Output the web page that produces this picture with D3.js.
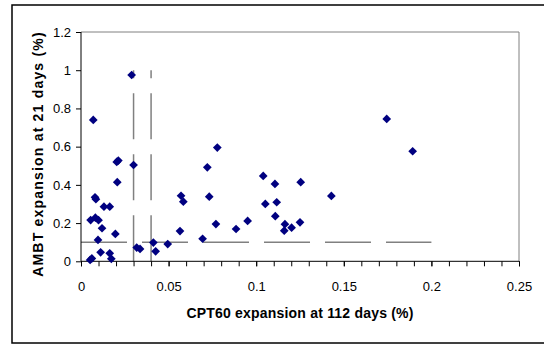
<!DOCTYPE html>
<html>
<head>
<meta charset="utf-8">
<script src="https://cdn.jsdelivr.net/npm/d3@7"></script>
<style>
  body { margin: 0; background: #fff; }
  text { font-family: "Liberation Sans", Arial, sans-serif; }
</style>
</head>
<body>
<svg width="544" height="345"></svg>
<script>
// CPT60 expansion at 112 days (%)
var cpt60 = [0.0052, 0.0062, 0.0055, 0.007, 0.0080, 0.0085, 0.0082, 0.0100, 0.0097, 0.0112,
  0.0120, 0.0131, 0.0164, 0.0164, 0.0173, 0.0196, 0.0204, 0.0213, 0.0207, 0.0289,
  0.0300, 0.0318, 0.0337, 0.0413, 0.0426, 0.0495, 0.0565, 0.0571, 0.0584, 0.0694,
  0.0721, 0.0732, 0.0770, 0.0778, 0.0885, 0.0951, 0.1040, 0.1052, 0.1107, 0.1117,
  0.1109, 0.1164, 0.1160, 0.1202, 0.1250, 0.1254, 0.1429, 0.1745, 0.1893];
// AMBT expansion at 21 days (%)
var ambt = [0.007, 0.015, 0.216, 0.74, 0.335, 0.325, 0.228, 0.215, 0.112, 0.047,
  0.173, 0.286, 0.286, 0.042, 0.013, 0.143, 0.520, 0.527, 0.414, 0.975,
  0.504, 0.072, 0.065, 0.098, 0.052, 0.090, 0.158, 0.343, 0.312, 0.118,
  0.492, 0.338, 0.195, 0.595, 0.169, 0.211, 0.447, 0.300, 0.405, 0.309,
  0.236, 0.194, 0.160, 0.176, 0.204, 0.414, 0.342, 0.745, 0.576];

// limit lines
var vLimits = [0.03, 0.04];
var vLimitTop = 1.0;
var hLimit = 0.1;
var hLimitEnd = 0.2;

var xTicks = [0, 0.05, 0.1, 0.15, 0.2, 0.25];
var xMinor = d3.range(0, 26).map(function(i) { return i / 100; });
var yTicks = [0, 0.2, 0.4, 0.6, 0.8, 1, 1.2];

var svg = d3.select("svg");

// outer frame
svg.append("rect")
    .attr("x", 12).attr("y", 5).attr("width", 545).attr("height", 338)
    .attr("fill", "none").attr("stroke", "#000").attr("stroke-width", 1.5);

var pLeft = 81, pRight = 519, pTop = 32, pBottom = 261.3;

var x = d3.scaleLinear().domain([0, 0.25]).range([pLeft, pRight]);
var y = d3.scaleLinear().domain([0, 1.2]).range([pBottom, pTop]);

// plot area border (top / right grey)
svg.append("path")
    .attr("d", "M" + pLeft + "," + pTop + "H" + pRight + "V" + pBottom)
    .attr("fill", "none").attr("stroke", "#808080").attr("stroke-width", 1);

// dashed limit lines
var dash = "46,15";
svg.selectAll(".vlim").data(vLimits).enter().append("line")
    .attr("x1", function(d) { return x(d); }).attr("x2", function(d) { return x(d); })
    .attr("y1", y(0)).attr("y2", y(vLimitTop))
    .attr("stroke", "#808080").attr("stroke-width", 1.5)
    .attr("stroke-dasharray", dash);
svg.append("line")
    .attr("x1", x(0)).attr("x2", x(hLimitEnd))
    .attr("y1", y(hLimit)).attr("y2", y(hLimit))
    .attr("stroke", "#808080").attr("stroke-width", 1.5)
    .attr("stroke-dasharray", dash);

// x axis
var gx = svg.append("g").attr("transform", "translate(0," + pBottom + ")");
gx.append("g")
    .call(d3.axisBottom(x).tickValues(xMinor).tickSize(5).tickFormat(""))
    .call(function(g) { g.select(".domain").remove(); });
gx.append("g")
    .call(d3.axisBottom(x).tickValues(xTicks).tickSize(5).tickPadding(15)
      .tickFormat(function(d) { return d3.format("")(+d.toFixed(2)); }))
    .call(function(g) {
      g.select(".domain").attr("d", "M" + pLeft + ",0H" + pRight).attr("stroke", "#000");
      g.selectAll("text").attr("font-size", 13).attr("fill", "#000")
        .style("font-family", "'Liberation Sans', Arial, sans-serif");
    });

// y axis
svg.append("g").attr("transform", "translate(" + pLeft + ",0)")
    .call(d3.axisLeft(y).tickValues(yTicks).tickSize(5).tickPadding(5)
      .tickFormat(function(d) { return d3.format("")(+d.toFixed(1)); }))
    .call(function(g) {
      g.select(".domain").attr("d", "M0," + pTop + "V" + pBottom).attr("stroke", "#000");
      g.selectAll("text").attr("font-size", 13).attr("fill", "#000")
        .style("font-family", "'Liberation Sans', Arial, sans-serif");
    });

// points
var diamond = d3.symbol().type(d3.symbolSquare).size(38);
svg.append("g").selectAll("path")
    .data(d3.zip(cpt60, ambt))
    .enter().append("path")
      .attr("d", diamond)
      .attr("transform", function(d) { return "translate(" + x(d[0]) + "," + y(d[1]) + ") rotate(45)"; })
      .attr("fill", "#000080");

// axis titles
svg.append("text")
    .attr("x", (pLeft + pRight) / 2).attr("y", 318)
    .attr("text-anchor", "middle").attr("font-size", 14).attr("font-weight", "bold")
    .attr("letter-spacing", 0.2)
    .text("CPT60 expansion at 112 days (%)");
svg.append("text")
    .attr("transform", "translate(43,154) rotate(-90)")
    .attr("text-anchor", "middle").attr("font-size", 14).attr("font-weight", "bold")
    .attr("letter-spacing", 1.2)
    .text("AMBT expansion at 21 days (%)");
</script>
</body>
</html>
